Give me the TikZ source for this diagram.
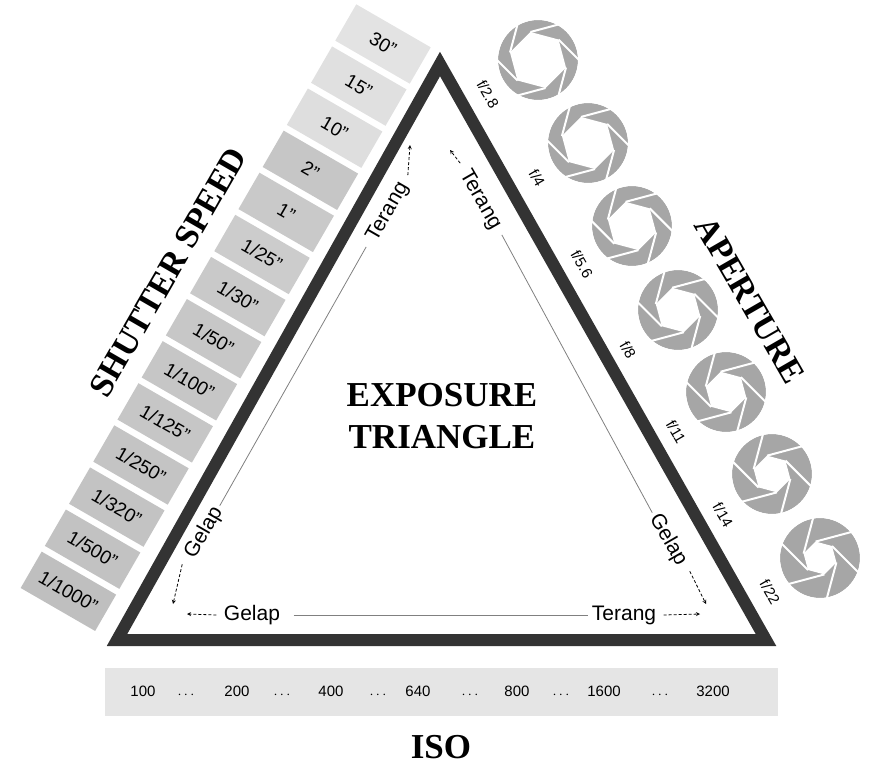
\documentclass[tikz,border=0pt]{standalone}
\usepackage{fontspec}
\setmainfont{Liberation Sans}
\newfontfamily\titlefont{Liberation Serif}
\usetikzlibrary{calc}
\tikzset{
  speed/.style={fill=#1, rotate=-30, minimum width=86pt, minimum height=42pt, inner sep=0pt, font=\fontsize{19}{19}\selectfont},
  title/.style={font=\titlefont\bfseries\fontsize{35}{35}\selectfont},
  lbl/.style={font=\fontsize{21}{21}\selectfont},
  fnum/.style={font=\fontsize{15}{15}\selectfont, rotate=-60},
  hint/.style={densely dashed, -stealth, thick},
  guide/.style={gray, thick}
}
\begin{document}
\begin{tikzpicture}[x=1pt, y=-1pt]
    \useasboundingbox (0,0) rectangle (878,768);

    % shutter speed strip
    \foreach \t/\c [count=\i from 0] in {{30''}/gray!22, {15''}/gray!24, {10''}/gray!26, {2''}/gray!45, {1''}/gray!42,
        {1/25''}/gray!40, {1/30''}/gray!42, {1/50''}/gray!44, {1/100''}/gray!45, {1/125''}/gray!45, {1/250''}/gray!46,
        {1/320''}/gray!47, {1/500''}/gray!48, {1/1000''}/gray!50}
      \node[speed=\c] (s\i) at ({383-24.2*\i}, {44+42.1*\i}) {\t};
    \node[title, rotate=60, font=\titlefont\bfseries\fontsize{34}{34}\selectfont] (shutter) at (168,272) {SHUTTER SPEED};

    % the triangle
    \coordinate (top) at (440,64);
    \coordinate (bl) at (117,640);
    \coordinate (br) at (766,640);
    \draw[line width=12pt, black!80, line join=miter] (top) -- (bl) -- (br) -- cycle;

    % aperture icons
    \foreach \x/\y/\h [count=\i] in {538/60/29, 588/143/27, 632/226/25, 678/310/23, 726/392/21, 772/474/19, 820/558/17} {
      \begin{scope}[shift={(\x,\y)}]
        \fill[gray!70] (0,0) circle (40);
        \fill[white] (15:\h) \foreach \a in {75,135,...,375} { -- (\a:\h) } -- cycle;
        \foreach \a in {15,75,...,315}
          \draw[white, line width=2pt] (\a:\h) -- ($(\a:\h)+(\a+90:48)$);
        \fill[white, even odd rule] (0,0) circle (40) circle (48);
      \end{scope}
      \coordinate (ap\i) at (\x,\y);
    }
    \foreach \t/\x/\y [count=\i] in {{f/2.8}/488/94, {f/4}/537/178, {f/5.6}/582/264, {f/8}/628/350, {f/11}/676/432, {f/14}/723/515, {f/22}/770/592}
      \node[fnum] (f\i) at (\x,\y) {\t};
    \node[title, rotate=-60, font=\titlefont\bfseries\fontsize{34}{34}\selectfont] (aperture) at (750,300) {APERTURE};

    % inside
    \node[title] (exp1) at (442,395) {EXPOSURE};
    \node[title] (exp2) at (442,437) {TRIANGLE};

    \node[lbl, rotate=60] (tl) at (388,212) {Terang};
    \coordinate (tla) at (410,145);
    \draw[hint] (tl.east) ++(2,-6) coordinate (tls) -- (tla);
    \node[lbl, rotate=-60] (tr) at (480,200) {Terang};
    \coordinate (tra) at (450,150);
    \draw[hint] (tr.west) ++(-2,-6) coordinate (trs) -- (tra);

    \node[lbl, rotate=60] (gl) at (204,533) {Gelap};
    \coordinate (gla) at (173,604);
    \draw[hint] (gl.west) ++(-6,4) coordinate (gls) -- (gla);
    \node[lbl, rotate=-60] (gr) at (668,540) {Gelap};
    \coordinate (gra) at (706,604);
    \draw[hint] (gr.east) ++(6,4) coordinate (grs) -- (gra);

    \node[lbl] (gb) at (252,615) {Gelap};
    \coordinate (gba) at (187,614);
    \draw[hint] (gb.west) ++(-4,0) coordinate (gbs) -- (gba);
    \node[lbl] (tb) at (624,615) {Terang};
    \coordinate (tba) at (700,614);
    \draw[hint] (tb.east) ++(4,0) coordinate (tbs) -- (tba);

    \draw[guide] (tl.west) ++(-4,4) coordinate (l1) -- (gl.east) ++(4,-4);
    \draw[guide] (tr.east) ++(4,4) coordinate (r1) -- (gr.west) ++(-4,-4);
    \draw[guide] (gb.east) ++(10,0) coordinate (b1) -- (tb.west) ++(-10,0);

    % iso strip
    \node[fill=gray!20, minimum width=673pt, minimum height=48pt] (iso) at (441,692) {};
    \foreach \t/\x [count=\i] in {100/143, 200/237, 400/331, 640/418, 800/517, 1600/604, 3200/713}
      \node[font=\fontsize{15}{15}\selectfont] (iso\i) at (\x,691) {\t};
    \foreach \x in {186,282,378,470,561,660}
      \node[font=\fontsize{15}{15}\selectfont] at (\x,695) {$\cdots$};
    \node[title] (isot) at (441,747) {ISO};
\end{tikzpicture}
\end{document}
